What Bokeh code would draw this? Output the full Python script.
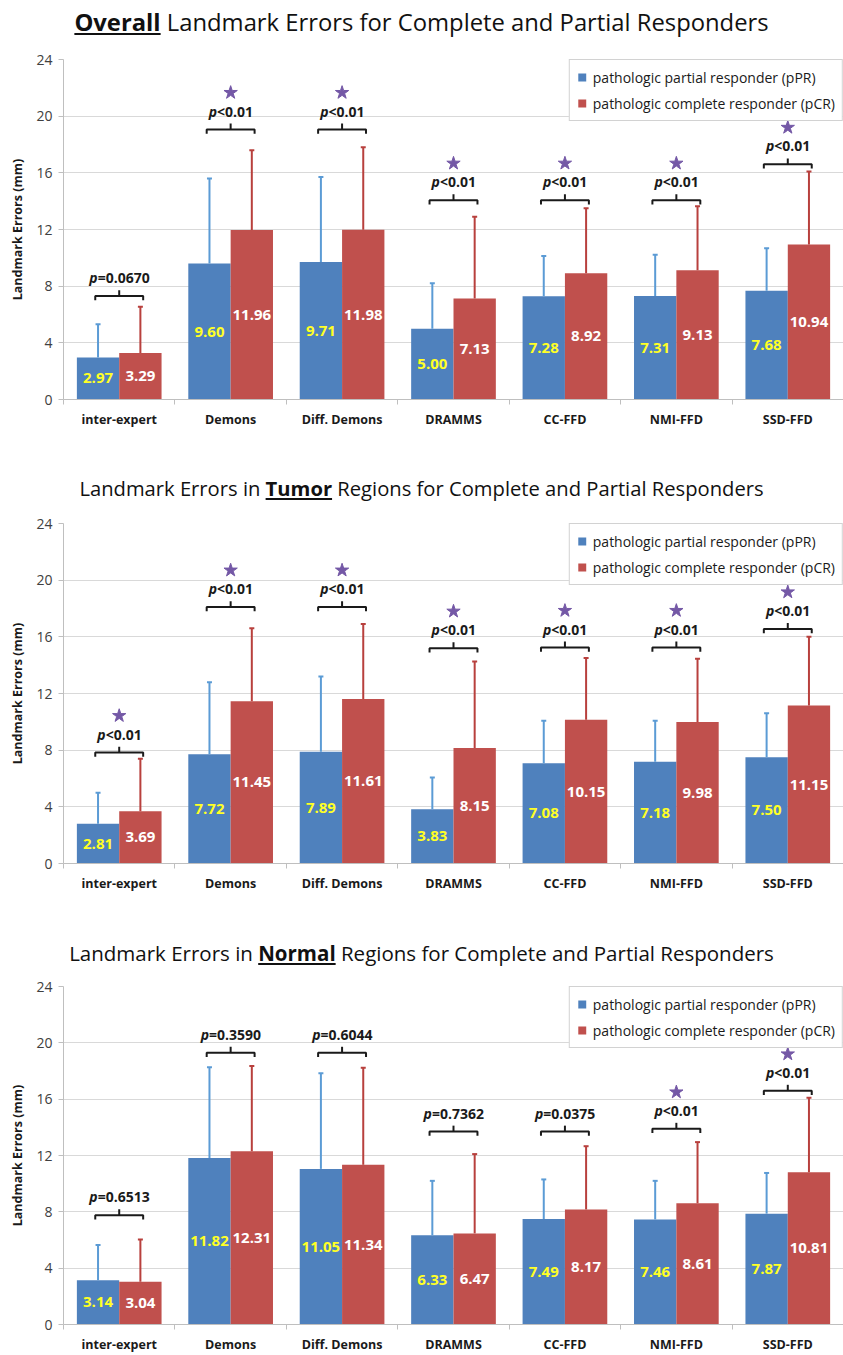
from bokeh.plotting import figure
from bokeh.models import ColumnDataSource, FixedTicker, Div, Range1d
from bokeh.layouts import column
from bokeh.embed import file_html
from bokeh.resources import INLINE
from bokeh.core.properties import value

categories = ["inter-expert", "Demons", "Diff. Demons", "DRAMMS", "CC-FFD", "NMI-FFD", "SSD-FFD"]

# Overall
overall_ppr = [2.97, 9.60, 9.71, 5.00, 7.28, 7.31, 7.68]
overall_ppr_sd = [2.35, 6.00, 6.00, 3.20, 2.85, 2.90, 3.00]
overall_pcr = [3.29, 11.96, 11.98, 7.13, 8.92, 9.13, 10.94]
overall_pcr_sd = [3.25, 5.64, 5.82, 5.77, 4.58, 4.52, 5.16]
overall_bracket = [7.3, 19.06, 19.06, 14.07, 14.07, 14.07, 16.6]
overall_p = ["p=0.0670", "p<0.01", "p<0.01", "p<0.01", "p<0.01", "p<0.01", "p<0.01"]

# Tumor
tumor_ppr = [2.81, 7.72, 7.89, 3.83, 7.08, 7.18, 7.50]
tumor_ppr_sd = [2.19, 5.08, 5.31, 2.24, 2.99, 2.89, 3.10]
tumor_pcr = [3.69, 11.45, 11.61, 8.15, 10.15, 9.98, 11.15]
tumor_pcr_sd = [3.71, 5.15, 5.29, 6.11, 4.35, 4.47, 4.85]
tumor_bracket = [7.83, 18.1, 18.1, 15.2, 15.25, 15.25, 16.56]
tumor_p = ["p<0.01", "p<0.01", "p<0.01", "p<0.01", "p<0.01", "p<0.01", "p<0.01"]

# Normal
normal_ppr = [3.14, 11.82, 11.05, 6.33, 7.49, 7.46, 7.87]
normal_ppr_sd = [2.51, 6.44, 6.79, 3.87, 2.81, 2.74, 2.89]
normal_pcr = [3.04, 12.31, 11.34, 6.47, 8.17, 8.61, 10.81]
normal_pcr_sd = [2.99, 6.04, 6.89, 5.63, 4.49, 4.34, 5.29]
normal_bracket = [7.76, 19.3, 19.3, 13.7, 13.7, 13.9, 16.6]
normal_p = ["p=0.6513", "p=0.3590", "p=0.6044", "p=0.7362", "p=0.0375", "p<0.01", "p<0.01"]

y_ticks = [0, 4, 8, 12, 16, 20, 24]

FONT = "Open Sans"
BLUE = "#4f81bd"
RED = "#c0504d"
BLUE_ERR = "#5b9bd5"
RED_ERR = "#b8403d"
STAR = "#7458a6"
W = 843


# approximate glyph advance (px) for Open Sans Bold at 14px
def text_w(s, size=14):
    adv = {".": 0.286, "<": 0.572, "=": 0.572, "p": 0.635}
    return sum(adv.get(ch, 0.572) for ch in s) * size


def make_panel(ppr, ppr_sd, pcr, pcr_sd, brackets, pvals, height, top, bottom):
    n = len(categories)
    idx = list(range(n))
    p = figure(width=W, height=height, x_range=Range1d(-0.5, n - 0.5), y_range=Range1d(0, 24),
               output_backend="svg", toolbar_location=None,
               min_border_left=63, min_border_right=0, min_border_top=top, min_border_bottom=bottom)
    p.outline_line_color = None
    p.background_fill_color = "white"

    off = 0.19
    bw = 0.38
    xb = [i - off for i in idx]
    xr = [i + off for i in idx]

    p.vbar(x=xb, top=ppr, bottom=0, width=bw, fill_color=BLUE, line_color=None,
           legend_label="pathologic partial responder (pPR)")
    p.vbar(x=xr, top=pcr, bottom=0, width=bw, fill_color=RED, line_color=None,
           legend_label="pathologic complete responder (pCR)")

    # error bars (upper only)
    ptop = [m + s for m, s in zip(ppr, ppr_sd)]
    ctop = [m + s for m, s in zip(pcr, pcr_sd)]
    p.segment(x0=xb, y0=ppr, x1=xb, y1=ptop, line_color=BLUE_ERR, line_width=2)
    p.segment(x0=xr, y0=pcr, x1=xr, y1=ctop, line_color=RED_ERR, line_width=2)
    p.scatter(x=xb, y=ptop, marker="dash", size=5, line_color=BLUE_ERR, line_width=2)
    p.scatter(x=xr, y=ctop, marker="dash", size=5, line_color=RED_ERR, line_width=2)

    # value labels
    p.text(x=xb, y=[v / 2 for v in ppr], text=["%.2f" % v for v in ppr],
           text_align="center", text_baseline="middle", text_color="#ffff26",
           text_font=value(FONT), text_font_style="bold", text_font_size="15px")
    p.text(x=xr, y=[v / 2 for v in pcr], text=["%.2f" % v for v in pcr],
           text_align="center", text_baseline="middle", text_color="white",
           text_font=value(FONT), text_font_style="bold", text_font_size="15px")

    # significance brackets
    hw = 0.215
    xs, ys = [], []
    for i, yb in zip(idx, brackets):
        xs.append([i - hw, i - hw, i + hw, i + hw])
        ys.append([yb - 0.3, yb, yb, yb - 0.3])
        xs.append([i, i])
        ys.append([yb, yb + 0.42])
    p.multi_line(xs=xs, ys=ys, line_color="#1a1a1a", line_width=2)

    # p-value texts: italic "p" + bold remainder, centred as a whole
    rest = [s[1:] for s in pvals]
    anchor_off = [-(text_w(r) - text_w("p")) / 2 for r in rest]
    src = ColumnDataSource(dict(x=idx, y=[b + 1.3 for b in brackets], p=["p"] * n, rest=rest, xo=anchor_off))
    p.text(x="x", y="y", text="p", x_offset="xo", source=src, text_align="right", text_baseline="middle",
           text_font=value(FONT), text_font_style="bold italic", text_font_size="14px", text_color="#1a1a1a")
    p.text(x="x", y="y", text="rest", x_offset="xo", source=src, text_align="left", text_baseline="middle",
           text_font=value(FONT), text_font_style="bold", text_font_size="14px", text_color="#1a1a1a")

    # axes
    p.yaxis.ticker = FixedTicker(ticks=y_ticks)
    p.yaxis.axis_label = "Landmark Errors (mm)"
    p.yaxis.axis_label_text_font = FONT
    p.yaxis.axis_label_text_font_style = "bold"
    p.yaxis.axis_label_text_font_size = "12.5px"
    p.yaxis.axis_label_text_color = "#1a1a1a"
    p.yaxis.axis_label_standoff = 7
    p.yaxis.major_label_text_font = FONT
    p.yaxis.major_label_text_font_size = "14px"
    p.yaxis.major_label_text_color = "#404040"
    p.yaxis.axis_line_color = "#bfbfbf"
    p.yaxis.major_tick_line_color = "#bfbfbf"
    p.yaxis.major_tick_out = 5
    p.yaxis.major_tick_in = 0
    p.yaxis.minor_tick_line_color = None
    p.yaxis.major_label_standoff = 6

    p.xaxis.ticker = FixedTicker(ticks=idx, minor_ticks=[i - 0.5 for i in range(n + 1)])
    p.xaxis.major_label_overrides = {i: c for i, c in zip(idx, categories)}
    p.xaxis.major_tick_line_color = None
    p.xaxis.major_tick_out = 0
    p.xaxis.major_tick_in = 0
    p.xaxis.minor_tick_line_color = "#bfbfbf"
    p.xaxis.minor_tick_out = 5
    p.xaxis.minor_tick_in = 0
    p.xaxis.axis_line_color = "#bfbfbf"
    p.xaxis.major_label_text_font = FONT
    p.xaxis.major_label_text_font_style = "bold"
    p.xaxis.major_label_text_font_size = "12.5px"
    p.xaxis.major_label_text_color = "#1a1a1a"
    p.xaxis.major_label_standoff = 6

    p.xgrid.visible = False
    p.ygrid.grid_line_color = "#d9d9d9"

    lg = p.legend[0]
    lg.location = "top_right"
    lg.margin = 0
    lg.padding = 7
    lg.spacing = 6
    lg.border_line_color = "#a6a6a6"
    lg.border_line_width = 1
    lg.label_text_font = FONT
    lg.label_text_font_size = "14px"
    lg.label_text_color = "#1a1a1a"
    lg.glyph_height = 10
    lg.glyph_width = 10
    lg.label_height = 20
    lg.label_standoff = 6
    lg.background_fill_alpha = 1

    # stars for significant differences (drawn above the legend box)
    sx = [i for i, s in zip(idx, pvals) if "<" in s]
    sy = [b + 2.6 for b, s in zip(brackets, pvals) if "<" in s]
    p.scatter(x=sx, y=sy, marker="star", size=14, fill_color=STAR, line_color=STAR, level="overlay")
    return p


def title_div(bold_word, before, after, h, size, pad):
    html = ('<div style="width:%dpx;text-align:center;font-family:\'Open Sans\';font-size:%spx;'
            'line-height:28px;padding-top:%dpx;margin:0;color:#111;white-space:nowrap">%s<b><u>%s</u></b>%s</div>') % (
        W, size, pad, before, bold_word, after)
    return Div(text=html, width=W, height=h, margin=(0, 0, 0, 0))


d1 = title_div("Overall", "", " Landmark Errors for Complete and Partial Responders", 48, 23.8, 8)
p1 = make_panel(overall_ppr, overall_ppr_sd, overall_pcr, overall_pcr_sd, overall_bracket, overall_p, 426, 11, 75)
d2 = title_div("Tumor", "Landmark Errors in ", " Regions for Complete and Partial Responders", 40, 20.2, 0)
p2 = make_panel(tumor_ppr, tumor_ppr_sd, tumor_pcr, tumor_pcr_sd, tumor_bracket, tumor_p, 425, 9, 76)
d3 = title_div("Normal", "Landmark Errors in ", " Regions for Complete and Partial Responders", 38, 20.5, 0)
p3 = make_panel(normal_ppr, normal_ppr_sd, normal_pcr, normal_pcr_sd, normal_bracket, normal_p, 378, 9, 29)

layout = column(d1, p1, d2, p2, d3, p3, spacing=0)
open("out.html", "w").write(file_html(layout, INLINE))
